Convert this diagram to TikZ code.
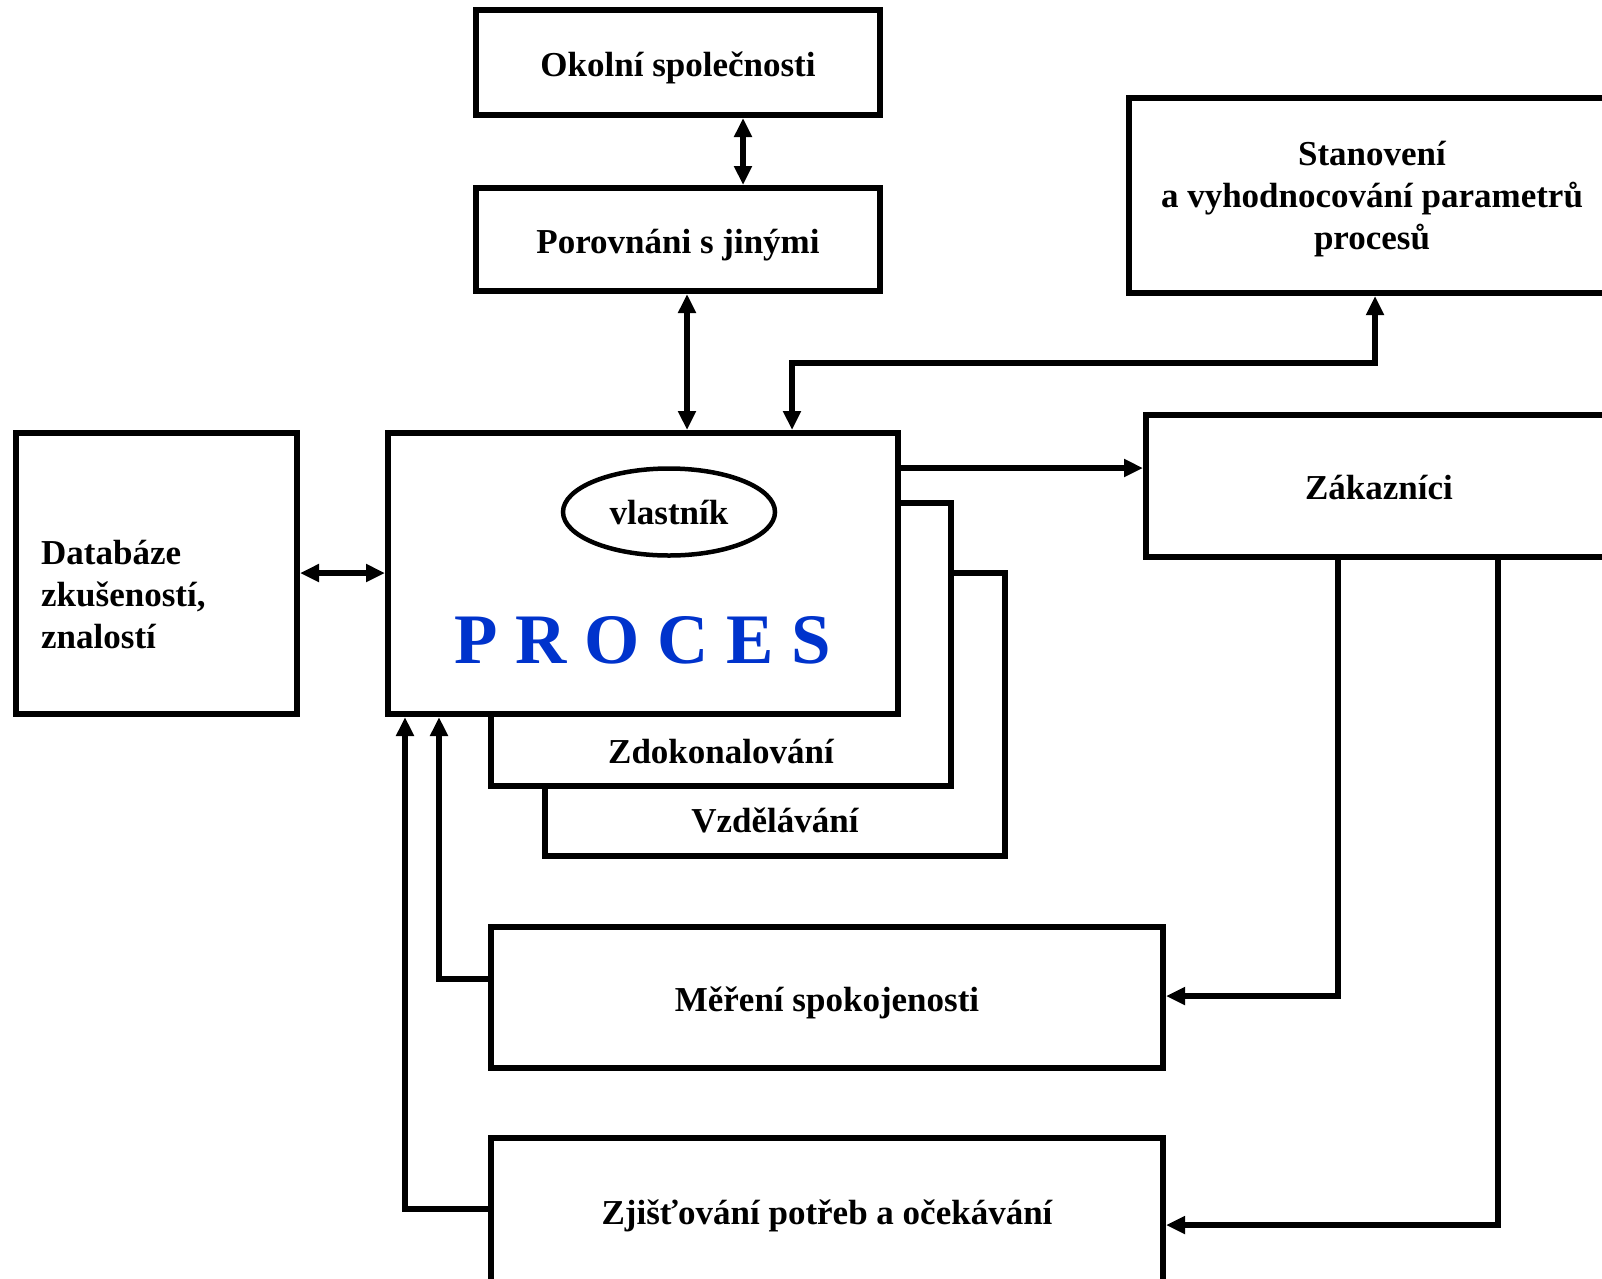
\documentclass[tikz,border=0pt]{standalone}
\usepackage{fontspec}
\setmainfont{Liberation Serif}
\usetikzlibrary{arrows.meta,shapes.geometric}
\definecolor{procblue}{RGB}{0,51,204}
\begin{document}
\begin{tikzpicture}[x=1pt,y=-1pt,
  txt/.style={font=\fontsize{35}{42}\selectfont\bfseries},
  box/.style={draw, line width=6pt, fill=white, rectangle, inner sep=0pt,
              text height=27pt, text depth=0pt, txt},
  lbl/.style={inner sep=0pt, txt},
  conn/.style={line width=5.5pt},
  >={Triangle[length=19pt,width=17pt]}]
\useasboundingbox (0,0) rectangle (1602,1278);

% upper chain
\node[box, minimum width=404pt, minimum height=105pt] (okolni) at (678,62.5) {Okolní společnosti};
\node[box, minimum width=404pt, minimum height=103pt] (porov) at (678,239.5) {Porovnáni s jinými};

% right column
\node[box, minimum width=488pt, minimum height=195pt] (stan) at (1373,195.5) {};
\node[lbl, anchor=base, align=center] (stantxt) at (1372,249)
  {Stanovení\\a vyhodnocování parametrů\\procesů};
\node[box, minimum width=466pt, minimum height=142pt] (zak) at (1379,486) {Zákazníci};

% knowledge base
\node[box, minimum width=281pt, minimum height=281pt] (db) at (156.5,573.5) {};
\node[lbl, anchor=base west, align=left] (dbtxt) at (41,648)
  {Databáze\\zkušeností,\\znalostí};

% stacked process boxes
\node[box, minimum width=460pt, minimum height=283pt] (vzd) at (775,714.5) {};
\node[lbl, anchor=base] (vzdtxt) at (775,832) {Vzdělávání};
\node[box, minimum width=460pt, minimum height=283pt] (zdok) at (721,644.5) {};
\node[lbl, anchor=base] (zdoktxt) at (721,763) {Zdokonalování};
\node[box, minimum width=510pt, minimum height=281pt] (proc) at (643,573.5) {};
\node[draw, ellipse, line width=4.5pt, minimum width=212pt, minimum height=87pt,
      inner sep=0pt, txt] (owner) at (669,512) {vlastník};
\node[inner sep=0pt, anchor=base, text=procblue,
      font=\fontsize{71}{80}\selectfont\bfseries] (proctxt) at (643,663) {P R O C E S};

% lower boxes
\node[box, minimum width=672pt, minimum height=141pt] (mer) at (827,997.5) {Měření spokojenosti};
\node[box, minimum width=672pt, minimum height=146pt] (zji) at (827,1211) {Zjišťování potřeb a očekávání};

% connectors
\coordinate (xa) at (743,0);
\coordinate (xb) at (687,0);
\coordinate (s1) at (1375,363);
\coordinate (s2) at (792,363);
\coordinate (ya) at (0,468);
\coordinate (yb) at (0,573);
\coordinate (z1) at (1338,996);
\coordinate (z2) at (1498,1225);
\coordinate (m1) at (439,979);
\coordinate (m2) at (405,1209);

\draw[conn,<->] (okolni.south -| xa) -- (porov.north -| xa);
\draw[conn,<->] (porov.south -| xb) -- (proc.north -| xb);
\draw[conn,<->] (stan.south -| s1) -- (s1) -- (s2) -- (proc.north -| s2);
\draw[conn,->] (proc.east |- ya) -- (zak.west |- ya);
\draw[conn,<->] (db.east |- yb) -- (proc.west |- yb);
\draw[conn,->] (zak.south -| z1) -- (z1) -- (mer.east |- z1);
\draw[conn,->] (zak.south -| z2) -- (z2) -- (zji.east |- z2);
\draw[conn,->] (mer.west |- m1) -- (m1) -- (proc.south -| m1);
\draw[conn,->] (zji.west |- m2) -- (m2) -- (proc.south -| m2);
\end{tikzpicture}
\end{document}
